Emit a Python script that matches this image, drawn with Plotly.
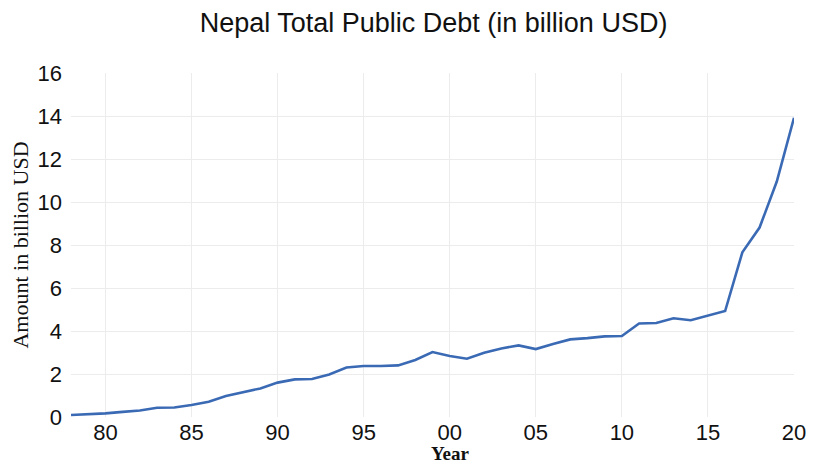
import plotly.graph_objects as go

years = list(range(1978, 2021))
debt = [0.09, 0.12, 0.17, 0.24, 0.30, 0.43, 0.44, 0.56, 0.71, 0.98,
        1.15, 1.33, 1.60, 1.75, 1.77, 1.98, 2.30, 2.37, 2.37, 2.40,
        2.65, 3.02, 2.84, 2.71, 2.99, 3.19, 3.33, 3.16, 3.40, 3.61,
        3.67, 3.75, 3.77, 4.35, 4.37, 4.59, 4.50, 4.70, 4.93, 7.66,
        8.81, 10.95, 13.92]

x_tick_vals = [1980, 1985, 1990, 1995, 2000, 2005, 2010, 2015, 2020]
x_tick_text = ["80", "85", "90", "95", "00", "05", "10", "15", "20"]
y_tick_vals = [0, 2, 4, 6, 8, 10, 12, 14, 16]

sans = "Arial, Liberation Sans"
serif = "Times New Roman, Liberation Serif"

fig = go.Figure()
fig.add_trace(go.Scatter(
    x=years, y=debt, mode="lines",
    line=dict(color="#3b6ab5", width=2.6),
    showlegend=False,
))

fig.update_layout(
    width=818, height=467,
    margin=dict(l=71, r=21, t=73, b=50),
    paper_bgcolor="white", plot_bgcolor="white",
    title=dict(
        text="Nepal Total Public Debt (in billion USD)",
        x=0.53, xanchor="center", y=0.952, yanchor="middle",
        font=dict(family=sans, size=27, color="#111"),
    ),
    xaxis=dict(
        range=[1978, 2020], tickvals=x_tick_vals, ticktext=x_tick_text,
        showgrid=True, gridcolor="#ececec", gridwidth=1, zeroline=False,
        showline=False, ticks="", ticklabelstandoff=0,
        tickfont=dict(family=sans, size=22, color="#111"),
    ),
    yaxis=dict(
        range=[0, 16], tickvals=y_tick_vals,
        showgrid=True, gridcolor="#ececec", gridwidth=1, zeroline=False,
        showline=False, ticks="", ticklabelstandoff=8,
        tickfont=dict(family=sans, size=22, color="#111"),
        title=dict(text="Amount in billion USD", standoff=2,
                   font=dict(family=serif, size=22, color="#111")),
    ),
    annotations=[dict(
        text="<b>Year</b>", xref="paper", yref="paper",
        x=(452 - 71) / (818 - 71 - 21), y=-(466 - 417) / (417 - 73),
        xanchor="center", yanchor="bottom", showarrow=False,
        font=dict(family=serif, size=19, color="#111"),
    )],
)

fig.write_html("out.html")
